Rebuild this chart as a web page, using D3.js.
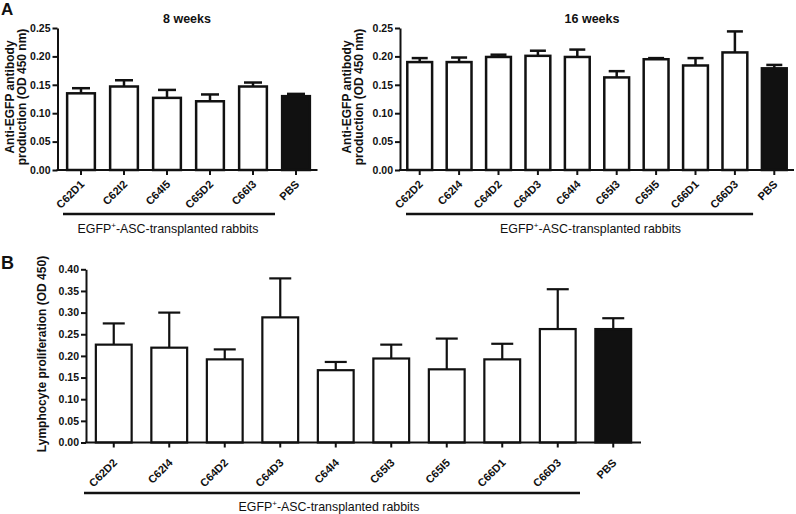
<!DOCTYPE html>
<html>
<head>
<meta charset="utf-8">
<script src="https://cdn.jsdelivr.net/npm/d3@7"></script>
<style>
  html, body { margin: 0; padding: 0; background: #fff; }
  svg { display: block; font-family: "Liberation Sans", Arial, sans-serif; }
</style>
</head>
<body>
<svg id="chart" width="796" height="514"></svg>
<script>
// ---- Data ----
const cats8 = ["C62D1", "C62I2", "C64I5", "C65D2", "C66I3", "PBS"];
const vals8 = [0.135, 0.147, 0.127, 0.121, 0.147, 0.130];
const errs8 = [0.009, 0.011, 0.014, 0.012, 0.007, 0.004];

const cats16 = ["C62D2", "C62I4", "C64D2", "C64D3", "C64I4", "C65I3", "C65I5", "C66D1", "C66D3", "PBS"];
const vals16 = [0.190, 0.190, 0.199, 0.201, 0.199, 0.163, 0.195, 0.184, 0.207, 0.179];
const errs16 = [0.007, 0.008, 0.004, 0.009, 0.013, 0.011, 0.002, 0.013, 0.037, 0.006];

const catsB = ["C62D2", "C62I4", "C64D2", "C64D3", "C64I4", "C65I3", "C65I5", "C66D1", "C66D3", "PBS"];
const valsB = [0.226, 0.219, 0.192, 0.289, 0.167, 0.194, 0.169, 0.192, 0.262, 0.262];
const errsB = [0.049, 0.081, 0.023, 0.090, 0.019, 0.032, 0.071, 0.036, 0.092, 0.025];

const ticksA = [0, 0.05, 0.10, 0.15, 0.20, 0.25];
const ticksB = [0, 0.05, 0.10, 0.15, 0.20, 0.25, 0.30, 0.35, 0.40];

const groupLabel = "EGFP";
const ink = "#111";
const svg = d3.select("#chart");

function panel(o) {
  const g = svg.append("g");
  const x = d3.scaleBand().domain(o.cats).range([o.x0, o.x1]).padding(0);
  const y = d3.scaleLinear().domain([0, o.ymax]).range([o.yb, o.yt]);
  const bw = x.bandwidth() * o.barFrac;

  // bars
  o.cats.forEach((c, i) => {
    const cx = x(c) + x.bandwidth() / 2;
    const top = y(o.vals[i]);
    const capY = y(o.vals[i] + o.errs[i]);
    const isPBS = c === "PBS";
    g.append("line")
      .attr("x1", cx).attr("x2", cx).attr("y1", top).attr("y2", capY)
      .attr("stroke", ink).attr("stroke-width", o.sw);
    g.append("line")
      .attr("x1", cx - o.cap / 2).attr("x2", cx + o.cap / 2).attr("y1", capY).attr("y2", capY)
      .attr("stroke", ink).attr("stroke-width", o.sw);
    g.append("rect")
      .attr("x", cx - bw / 2).attr("width", bw)
      .attr("y", top).attr("height", y(0) - top)
      .attr("fill", isPBS ? ink : "#fff")
      .attr("stroke", ink).attr("stroke-width", o.sw);
  });

  // y axis
  const ya = g.append("g").attr("transform", `translate(${o.ax},0)`)
    .call(d3.axisLeft(y).tickValues(o.ticks).tickFormat(d3.format(".2f")).tickSize(5).tickSizeOuter(0));
  ya.select(".domain").attr("stroke", ink).attr("stroke-width", 2);
  ya.selectAll(".tick line").attr("stroke", ink).attr("stroke-width", 2);
  ya.selectAll(".tick text").attr("font-family", "Liberation Sans, Arial, sans-serif")
    .attr("font-size", "10.5px").attr("font-weight", "bold").attr("fill", ink).attr("x", -7);

  // x axis
  g.append("line").attr("x1", o.ax - 1).attr("x2", o.x1).attr("y1", o.yb).attr("y2", o.yb)
    .attr("stroke", ink).attr("stroke-width", 2);
  const xa = g.append("g").attr("transform", `translate(0,${o.yb})`)
    .call(d3.axisBottom(x).tickSize(5).tickSizeOuter(0));
  xa.select(".domain").remove();
  xa.selectAll(".tick line").attr("stroke", ink).attr("stroke-width", 2);
  xa.selectAll(".tick text")
    .attr("font-family", "Liberation Sans, Arial, sans-serif")
    .attr("font-size", "11px").attr("font-weight", "bold").attr("fill", ink)
    .attr("text-anchor", "end").attr("y", 0).attr("dy", 0)
    .attr("transform", `translate(4,${o.lblDy}) rotate(-45)`);

  // group bracket
  const lastGrp = o.cats[o.cats.length - 2];
  const bx0 = x(o.cats[0]) + o.brL;
  const bx1 = x(lastGrp) + x.bandwidth() + o.brR;
  g.append("line").attr("x1", bx0).attr("x2", bx1).attr("y1", o.brY).attr("y2", o.brY)
    .attr("stroke", ink).attr("stroke-width", 2.5);
  const t = g.append("text").attr("x", (bx0 + bx1) / 2 + o.txtDx).attr("y", o.txtY)
    .attr("text-anchor", "middle").attr("font-size", "12.4px").attr("fill", ink);
  t.append("tspan").text(groupLabel);
  t.append("tspan").text("+").attr("font-size", "8px").attr("dy", -5);
  t.append("tspan").text("-ASC-transplanted rabbits").attr("dy", 5);

  // y label
  const yl = g.append("text").attr("transform", `translate(${o.ylx},${o.yly}) rotate(-90)`)
    .attr("text-anchor", "middle").attr("font-size", "12px").attr("font-weight", "bold").attr("fill", ink);
  o.ylabel.forEach((line, i) => {
    yl.append("tspan").attr("x", 0).attr("dy", i === 0 ? 0 : 12).text(line);
  });

  if (o.title) {
    g.append("text").attr("x", o.titleX).attr("y", 23).attr("text-anchor", "middle")
      .attr("font-size", "12.5px").attr("font-weight", "bold").attr("fill", ink).text(o.title);
  }
  return { x, y };
}

panel({
  cats: cats8, vals: vals8, errs: errs8, ymax: 0.25, ticks: ticksA,
  x0: 59.5, x1: 317.5, yb: 170, yt: 28, ax: 57.5, barFrac: 0.645, sw: 2.5, cap: 18,
  lblDy: 15, brL: 3.5, brR: 0.5, brY: 214, txtY: 233, txtDx: -1,
  ylabel: ["Anti-EGFP antibody", "production (OD 450 nm)"], ylx: 14, yly: 97,
  title: "8 weeks", titleX: 187
});

panel({
  cats: cats16, vals: vals16, errs: errs16, ymax: 0.25, ticks: ticksA,
  x0: 400, x1: 794, yb: 170, yt: 28, ax: 400, barFrac: 0.63, sw: 2.5, cap: 16,
  lblDy: 15, brL: 6, brR: -1.5, brY: 214, txtY: 233, txtDx: 11,
  ylabel: ["Anti-EGFP antibody", "production (OD 450 nm)"], ylx: 351, yly: 97,
  title: "16 weeks", titleX: 592
});

panel({
  cats: catsB, vals: valsB, errs: errsB, ymax: 0.40, ticks: ticksB,
  x0: 86, x1: 641, yb: 442.5, yt: 269.3, ax: 86, barFrac: 0.645, sw: 2.2, cap: 22,
  lblDy: 21, brL: -2, brR: -5.5, brY: 493, txtY: 511, txtDx: -3,
  ylabel: ["Lymphocyte proliferation (OD 450)"], ylx: 46, yly: 354
});

// panel letters
svg.append("text").attr("x", 1).attr("y", 15).attr("font-size", "17px").attr("font-weight", "bold").attr("fill", ink).text("A");
svg.append("text").attr("x", 1).attr("y", 269).attr("font-size", "18px").attr("font-weight", "bold").attr("fill", ink).text("B");
</script>
</body>
</html>
